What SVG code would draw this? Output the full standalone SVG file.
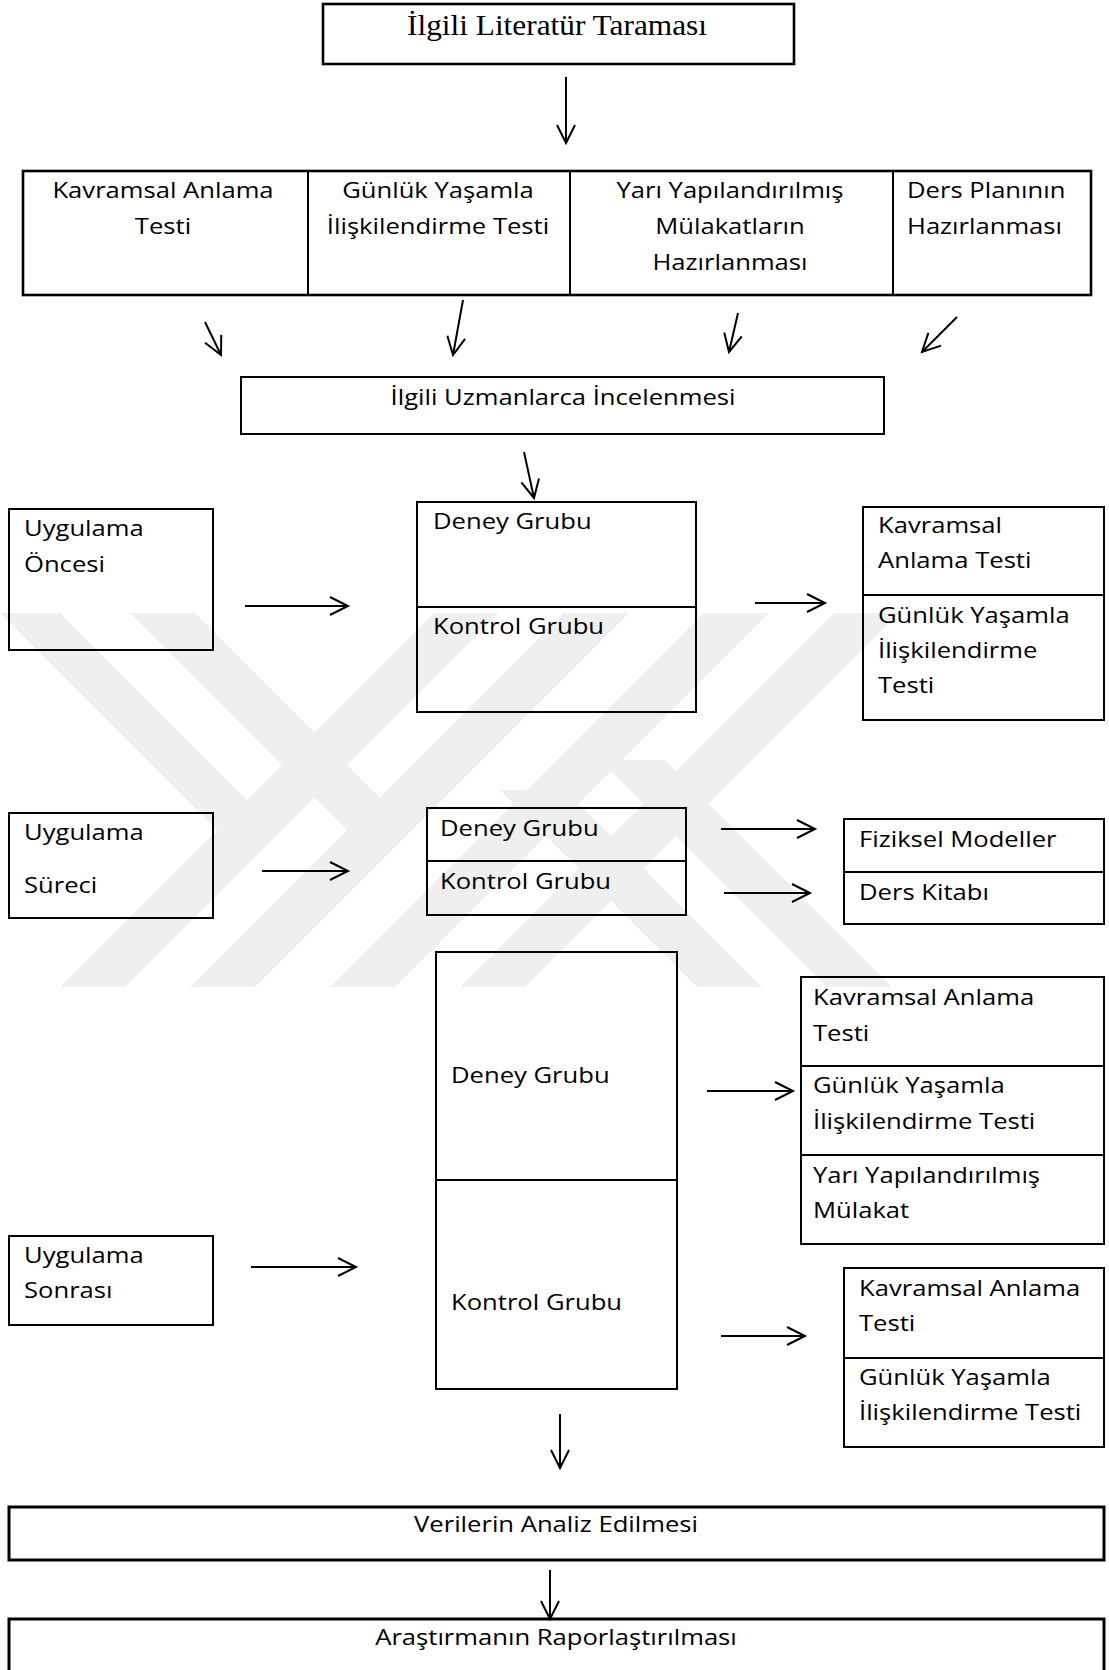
<svg xmlns="http://www.w3.org/2000/svg" width="1109" height="1670" viewBox="0 0 1109 1670">
<style>
.box{fill:none;stroke:#000;stroke-width:2}
.thick{stroke-width:2.6}
.t{font-family:"Open Sans","Liberation Sans",sans-serif;font-size:21px;fill:#000}
.c{text-anchor:middle}
.serif{font-family:"Liberation Serif","Times New Roman",serif;font-size:28.5px;fill:#000;text-anchor:middle}
.ln{stroke:#000;stroke-width:2;fill:none;marker-end:url(#ah)}
.wm{fill:#efefef}
</style>
<defs>
<marker id="ah" markerUnits="userSpaceOnUse" markerWidth="26" markerHeight="26" viewBox="-22 -13 26 26" refX="0" refY="0" orient="auto">
<path d="M-18,-9 L0,0 L-18,9" fill="none" stroke="#000" stroke-width="2"/>
</marker>
<clipPath id="wmclip"><rect x="0" y="613" width="1109" height="374"/></clipPath>
</defs>
<rect width="1109" height="1670" fill="#fff"/>
<g id="watermark" clip-path="url(#wmclip)">
<polygon class="wm" points="434,613 499,613 125,987 60,987"/>
<polygon class="wm" points="564,613 629,613 255,987 190,987"/>
<polygon class="wm" points="704,613 769,613 395,987 330,987"/>
<polygon class="wm" points="834,613 899,613 525,987 460,987"/>
<polygon class="wm" points="0,613 60,613 247,800 217,830"/>
<polygon class="wm" points="130,613 195,613 380,798 347,830"/>
<polygon class="wm" points="600,760 665,760 892,987 827,987"/>
<polygon class="wm" points="500,790 565,790 762,987 697,987"/>
</g>
<g id="n_top"><rect class="box thick" x="323" y="4" width="471" height="60"/>
<text class="serif" transform="translate(557,35) scale(1.1,1)">İlgili Literatür Taraması</text></g>
<g id="n_row">
<rect class="box thick" x="23" y="171" width="1068" height="124"/>
<line class="box" x1="308" y1="171" x2="308" y2="295"/>
<line class="box" x1="570" y1="171" x2="570" y2="295"/>
<line class="box" x1="893" y1="171" x2="893" y2="295"/>
</g>
<g id="n_kavramsal1"><text class="t c" transform="translate(163,198) scale(1.22,1)">Kavramsal Anlama</text><text class="t c" transform="translate(163,234) scale(1.22,1)">Testi</text></g>
<g id="n_gunluk1"><text class="t c" transform="translate(438,198) scale(1.22,1)">Günlük Yaşamla</text><text class="t c" transform="translate(438,234) scale(1.22,1)">İlişkilendirme Testi</text></g>
<g id="n_yari1"><text class="t c" transform="translate(730,198) scale(1.22,1)">Yarı Yapılandırılmış</text><text class="t c" transform="translate(730,234) scale(1.22,1)">Mülakatların</text><text class="t c" transform="translate(730,270) scale(1.22,1)">Hazırlanması</text></g>
<g id="n_ders"><text class="t" transform="translate(907,198) scale(1.22,1)">Ders Planının</text><text class="t" transform="translate(907,234) scale(1.22,1)">Hazırlanması</text></g>
<g id="n_uzman"><rect class="box" x="241" y="377" width="643" height="57"/><text class="t c" transform="translate(563,405) scale(1.22,1)">İlgili Uzmanlarca İncelenmesi</text></g>
<g id="n_once"><rect class="box" x="9" y="509" width="204" height="141"/><text class="t" transform="translate(24,536) scale(1.22,1)">Uygulama</text><text class="t" transform="translate(24,572) scale(1.22,1)">Öncesi</text></g>
<g id="n_grup1"><rect class="box" x="417" y="502" width="279" height="210"/><line class="box" x1="417" y1="607" x2="696" y2="607"/><text class="t" transform="translate(433,529) scale(1.22,1)">Deney Grubu</text><text class="t" transform="translate(433,634) scale(1.22,1)">Kontrol Grubu</text></g>
<g id="n_test1"><rect class="box" x="863" y="507" width="241" height="213"/><line class="box" x1="863" y1="595" x2="1104" y2="595"/><text class="t" transform="translate(878,533) scale(1.22,1)">Kavramsal</text><text class="t" transform="translate(878,568) scale(1.22,1)">Anlama Testi</text><text class="t" transform="translate(878,623) scale(1.22,1)">Günlük Yaşamla</text><text class="t" transform="translate(878,658) scale(1.22,1)">İlişkilendirme</text><text class="t" transform="translate(878,693) scale(1.22,1)">Testi</text></g>
<g id="n_surec"><rect class="box" x="9" y="813" width="204" height="105"/><text class="t" transform="translate(24,840) scale(1.22,1)">Uygulama</text><text class="t" transform="translate(24,893) scale(1.22,1)">Süreci</text></g>
<g id="n_grup2"><rect class="box" x="427" y="808" width="259" height="107"/><line class="box" x1="427" y1="861" x2="686" y2="861"/><text class="t" transform="translate(440,836) scale(1.22,1)">Deney Grubu</text><text class="t" transform="translate(440,889) scale(1.22,1)">Kontrol Grubu</text></g>
<g id="n_materyal"><rect class="box" x="844" y="819" width="260" height="105"/><line class="box" x1="844" y1="872" x2="1104" y2="872"/><text class="t" transform="translate(859,847) scale(1.22,1)">Fiziksel Modeller</text><text class="t" transform="translate(859,900) scale(1.22,1)">Ders Kitabı</text></g>
<g id="n_grup3"><rect class="box" x="436" y="952" width="241" height="437"/><line class="box" x1="436" y1="1180" x2="677" y2="1180"/><text class="t" transform="translate(451,1083) scale(1.22,1)">Deney Grubu</text><text class="t" transform="translate(451,1310) scale(1.22,1)">Kontrol Grubu</text></g>
<g id="n_sonra"><rect class="box" x="9" y="1236" width="204" height="89"/><text class="t" transform="translate(24,1263) scale(1.22,1)">Uygulama</text><text class="t" transform="translate(24,1298) scale(1.22,1)">Sonrası</text></g>
<g id="n_test3a"><rect class="box" x="801" y="977" width="303" height="267"/><line class="box" x1="801" y1="1066" x2="1104" y2="1066"/><line class="box" x1="801" y1="1155" x2="1104" y2="1155"/><text class="t" transform="translate(813,1005) scale(1.22,1)">Kavramsal Anlama</text><text class="t" transform="translate(813,1041) scale(1.22,1)">Testi</text><text class="t" transform="translate(813,1093) scale(1.22,1)">Günlük Yaşamla</text><text class="t" transform="translate(813,1129) scale(1.22,1)">İlişkilendirme Testi</text><text class="t" transform="translate(813,1183) scale(1.22,1)">Yarı Yapılandırılmış</text><text class="t" transform="translate(813,1218) scale(1.22,1)">Mülakat</text></g>
<g id="n_test3b"><rect class="box" x="844" y="1268" width="260" height="179"/><line class="box" x1="844" y1="1358" x2="1104" y2="1358"/><text class="t" transform="translate(859,1296) scale(1.22,1)">Kavramsal Anlama</text><text class="t" transform="translate(859,1331) scale(1.22,1)">Testi</text><text class="t" transform="translate(859,1385) scale(1.22,1)">Günlük Yaşamla</text><text class="t" transform="translate(859,1420) scale(1.22,1)">İlişkilendirme Testi</text></g>
<g id="n_analiz"><rect class="box" style="stroke-width:3" x="9" y="1507" width="1095" height="53"/><text class="t c" transform="translate(556,1532) scale(1.22,1)">Verilerin Analiz Edilmesi</text></g>
<g id="n_rapor"><rect class="box" style="stroke-width:3" x="9" y="1619" width="1095" height="80"/><text class="t c" transform="translate(556,1645) scale(1.22,1)">Araştırmanın Raporlaştırılması</text></g>
<g id="connectors">
<line class="ln" x1="566" y1="77" x2="566" y2="143"/>
<line class="ln" x1="205" y1="322" x2="221" y2="355"/>
<line class="ln" x1="463" y1="300" x2="453" y2="355"/>
<line class="ln" x1="738" y1="313" x2="729" y2="352"/>
<line class="ln" x1="957" y1="317" x2="922" y2="352"/>
<line class="ln" x1="524" y1="452" x2="534" y2="498"/>
<line class="ln" x1="245" y1="606" x2="348" y2="606"/>
<line class="ln" x1="755" y1="603" x2="825" y2="603"/>
<line class="ln" x1="262" y1="871" x2="348" y2="871"/>
<line class="ln" x1="721" y1="829" x2="815" y2="829"/>
<line class="ln" x1="724" y1="893" x2="810" y2="893"/>
<line class="ln" x1="251" y1="1267" x2="356" y2="1267"/>
<line class="ln" x1="707" y1="1091" x2="793" y2="1091"/>
<line class="ln" x1="721" y1="1336" x2="805" y2="1336"/>
<line class="ln" x1="560" y1="1414" x2="560" y2="1468"/>
<line class="ln" x1="550" y1="1570" x2="550" y2="1619"/>
</g>
</svg>
